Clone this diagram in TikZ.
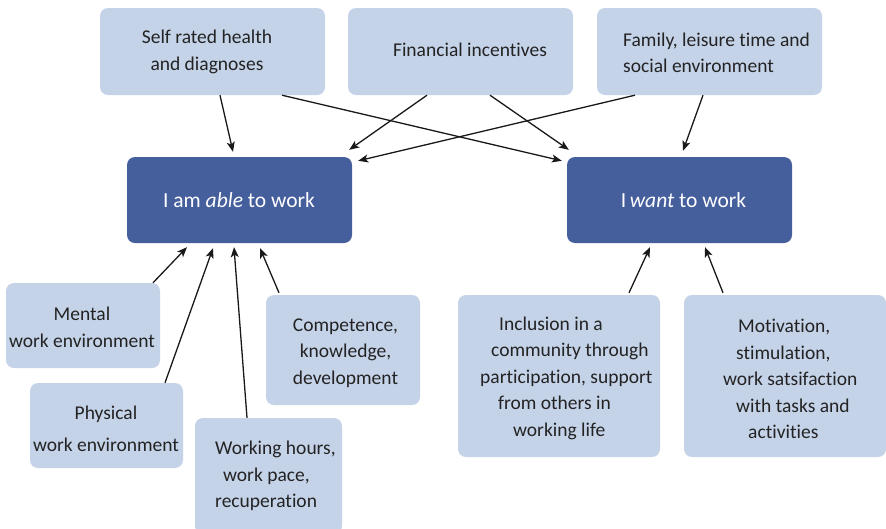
\documentclass[tikz,border=0pt]{standalone}
\usepackage{fontspec}
\setmainfont{Carlito}[Ligatures=NoCommon]
\usetikzlibrary{arrows.meta,calc}
\definecolor{lightbox}{RGB}{197,211,233}
\definecolor{darkbox}{RGB}{69,94,156}
\definecolor{txt}{RGB}{35,35,35}
\begin{document}
\begin{tikzpicture}[x=1pt,y=-1pt,
  lbox/.style={fill=lightbox,rounded corners=8pt,inner sep=0pt},
  dbox/.style={fill=darkbox,rounded corners=8pt,inner sep=0pt},
  ltxt/.style={inner sep=0pt,text=txt,font=\fontsize{19.5}{26.5}\selectfont},
  dtxt/.style={inner sep=0pt,text=white,font=\fontsize{21.5}{26}\selectfont},
  arr/.style={line width=1.3pt,black!90,-{Stealth[length=10pt,width=8pt,inset=2.5pt]}}]
\useasboundingbox (0,0) rectangle (886,528);
% boxes
\node[lbox,minimum width=225pt,minimum height=87pt] (self) at (212.5,51.5) {};
\node[lbox,minimum width=225pt,minimum height=87pt] (fin) at (460.5,51.5) {};
\node[lbox,minimum width=225pt,minimum height=87pt] (fam) at (709.5,51.5) {};
\node[dbox,minimum width=225pt,minimum height=86pt] (able) at (239.5,200) {};
\node[dbox,minimum width=225pt,minimum height=86pt] (want) at (679.5,200) {};
\node[lbox,minimum width=154pt,minimum height=85pt] (mental) at (83,325.5) {};
\node[lbox,minimum width=153pt,minimum height=85pt] (physical) at (106.5,425.5) {};
\node[lbox,minimum width=147pt,minimum height=116pt] (working) at (268.5,476) {};
\node[lbox,minimum width=154pt,minimum height=110pt] (competence) at (343,350) {};
\node[lbox,minimum width=202pt,minimum height=162pt] (inclusion) at (559,376) {};
\node[lbox,minimum width=202pt,minimum height=162pt] (motivation) at (785,376) {};
% texts
\node[ltxt,align=center] (selft) at (207,52) {Self rated health\\and diagnoses};
\node[ltxt] (fint) at (470,50) {Financial incentives};
\node[ltxt,align=left,anchor=west] (famt) at (623,53) {Family, leisure time and\\social environment};
\node[dtxt] (ablet) at (239,200) {I am \textit{able} to work};
\node[dtxt] (wantt) at (683.5,200) {I\,\textit{want} to work};
\node[ltxt,align=center] (mentalt) at (82,327.5) {Mental\\work environment};
\node[ltxt,align=center] (physicalt) at (106,429) {Physical\\[5pt]work environment};
\node[ltxt,align=left,anchor=west] (workingt) at (215,476) {Working hours,\\\hspace*{8pt}work pace,\\recuperation};
\node[ltxt,align=center] (competencet) at (345.5,353) {Competence,\\knowledge,\\development};
\node[ltxt,align=left,anchor=west] (inclusiont) at (480,378) {\hspace*{19pt}Inclusion in a\\\hspace*{11pt}community through\\participation, support\\\hspace*{18pt}from others in\\\hspace*{33pt}working life};
\node[ltxt,align=left,anchor=west] (motivationt) at (723,379) {\hspace*{15pt}Motivation,\\\hspace*{13pt}stimulation,\\work satsifaction\\\hspace*{13pt}with tasks and\\\hspace*{25pt}activities};
% arrows
\draw[arr] ([xshift=7.5pt]self.south) -- ([xshift=-6.5pt,yshift=5pt]able.north);
\draw[arr] ([xshift=69.5pt]self.south) -- ([xshift=-5pt,yshift=-4pt]want.north west);
\draw[arr] ([xshift=-33.5pt]fin.south) -- ([xshift=-3pt,yshift=7pt]able.north east);
\draw[arr] ([xshift=29.5pt]fin.south) -- ([xshift=2pt,yshift=7pt]want.north west);
\draw[arr] ([xshift=-74.5pt]fam.south) -- ([xshift=6pt,yshift=-4pt]able.north east);
\draw[arr] ([xshift=-6.5pt]fam.south) -- ([xshift=3.5pt,yshift=6pt]want.north);
\draw[arr] ([xshift=70pt]mental.north) -- ([xshift=-52.5pt,yshift=-4pt]able.south);
\draw[arr] ([xshift=58.5pt]physical.north) -- ([xshift=-26.5pt,yshift=-5pt]able.south);
\draw[arr] ([xshift=-21.5pt]working.north) -- ([xshift=-5.5pt,yshift=-4pt]able.south);
\draw[arr] ([xshift=-64pt,yshift=2pt]competence.north) -- ([xshift=20.5pt,yshift=-5pt]able.south);
\draw[arr] ([xshift=70pt,yshift=2pt]inclusion.north) -- ([xshift=-29.5pt,yshift=-4pt]want.south);
\draw[arr] ([xshift=-62pt,yshift=2pt]motivation.north) -- ([xshift=25.5pt,yshift=-4pt]want.south);
\end{tikzpicture}
\end{document}
